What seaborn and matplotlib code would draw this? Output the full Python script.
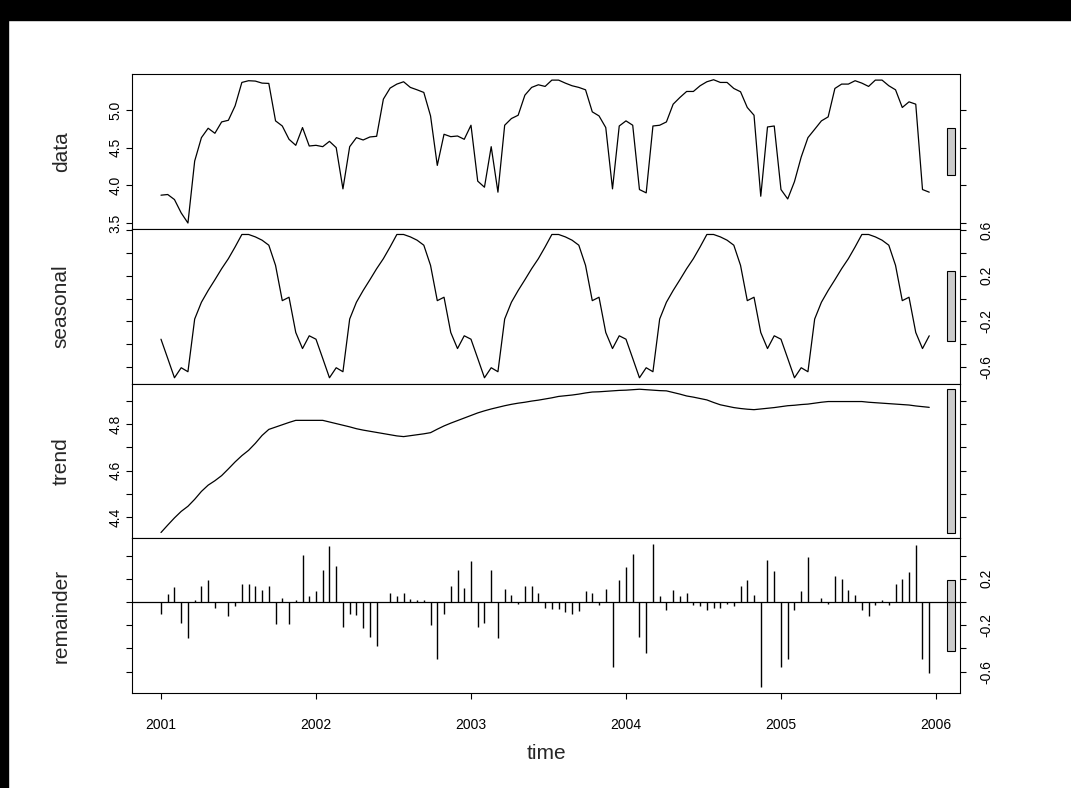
import numpy as np
import pandas as pd
import seaborn as sns
import matplotlib.pyplot as plt
from matplotlib.patches import Rectangle

# 16-day composites, 23 per year, starting 2001
start_year = 2001
per_year = 23

data = [
    3.870, 3.879, 3.812, 3.634, 3.500, 4.324, 4.635, 4.760, 4.693, 4.844, 4.866, 5.058,
    5.369, 5.392, 5.387, 5.360, 5.356, 4.858, 4.790, 4.613, 4.533, 4.769, 4.524,
    4.533, 4.515, 4.586, 4.502, 3.954, 4.515, 4.635, 4.604, 4.644, 4.653, 5.147, 5.294,
    5.347, 5.378, 5.303, 5.271, 5.236, 4.924, 4.266, 4.680, 4.648, 4.657, 4.613, 4.800,
    4.057, 3.976, 4.515, 3.910, 4.800, 4.889, 4.933, 5.200, 5.303, 5.338, 5.316, 5.400,
    5.400, 5.360, 5.325, 5.303, 5.271, 4.978, 4.924, 4.769, 3.954, 4.790,
    4.858, 4.800, 3.945, 3.901, 4.790, 4.800, 4.844, 5.080, 5.169, 5.249, 5.249, 5.325,
    5.378, 5.405, 5.369, 5.369, 5.289, 5.245, 5.036, 4.933, 3.856, 4.777, 4.790, 3.945,
    3.820, 4.050, 4.377, 4.635, 4.746, 4.858, 4.911, 5.289, 5.347, 5.347, 5.392, 5.360,
    5.316, 5.400, 5.400, 5.325, 5.271, 5.036, 5.111, 5.080, 3.945, 3.910,
]

seasonal = [
    -0.356, -0.524, -0.694, -0.606, -0.641, -0.179, -0.032, 0.071, 0.165, 0.262, 0.350, 0.453,
    0.562, 0.562, 0.541, 0.512, 0.468, 0.291, -0.018, 0.012, -0.297, -0.438, -0.326,
    -0.356, -0.524, -0.694, -0.606, -0.641, -0.179, -0.032, 0.071, 0.165, 0.262, 0.350, 0.453,
    0.562, 0.562, 0.541, 0.512, 0.468, 0.291, -0.018, 0.012, -0.297, -0.438, -0.326,
    -0.356, -0.524, -0.694, -0.606, -0.641, -0.179, -0.032, 0.071, 0.165, 0.262, 0.350, 0.453,
    0.562, 0.562, 0.541, 0.512, 0.468, 0.291, -0.018, 0.012, -0.297, -0.438, -0.326,
    -0.356, -0.524, -0.694, -0.606, -0.641, -0.179, -0.032, 0.071, 0.165, 0.262, 0.350, 0.453,
    0.562, 0.562, 0.541, 0.512, 0.468, 0.291, -0.018, 0.012, -0.297, -0.438, -0.326,
    -0.356, -0.524, -0.694, -0.606, -0.641, -0.179, -0.032, 0.071, 0.165, 0.262, 0.350, 0.453,
    0.562, 0.562, 0.541, 0.512, 0.468, 0.291, -0.018, 0.012, -0.297, -0.438, -0.326,
]

trend = [
    4.333, 4.365, 4.396, 4.424, 4.446, 4.476, 4.510, 4.537, 4.556, 4.578, 4.607, 4.637,
    4.664, 4.687, 4.717, 4.751, 4.777, 4.787, 4.797, 4.807, 4.816, 4.816, 4.816,
    4.816, 4.816, 4.809, 4.802, 4.795, 4.788, 4.780, 4.774, 4.769, 4.764, 4.759, 4.754,
    4.749, 4.746, 4.750, 4.754, 4.758, 4.763, 4.778, 4.792, 4.804, 4.815, 4.826, 4.837,
    4.848, 4.857, 4.865, 4.872, 4.879, 4.885, 4.890, 4.894, 4.899, 4.903, 4.908, 4.913,
    4.919, 4.922, 4.925, 4.929, 4.934, 4.938, 4.939, 4.941, 4.943, 4.945,
    4.946, 4.948, 4.950, 4.948, 4.946, 4.944, 4.943, 4.936, 4.929, 4.921, 4.916, 4.910,
    4.904, 4.893, 4.883, 4.877, 4.871, 4.867, 4.864, 4.862, 4.865, 4.868, 4.871, 4.875,
    4.879, 4.881, 4.884, 4.886, 4.890, 4.894, 4.897, 4.897, 4.897, 4.897, 4.897, 4.897,
    4.894, 4.892, 4.890, 4.888, 4.886, 4.884, 4.882, 4.878, 4.875, 4.872,
]

remainder = [
    -0.100, 0.071, 0.128, -0.179, -0.307, 0.020, 0.136, 0.190, -0.048, 0.000, -0.122, -0.037,
    0.156, 0.156, 0.136, 0.105, 0.136, -0.190, 0.037, -0.190, 0.020, 0.406, 0.048,
    0.094, 0.278, 0.483, 0.307, -0.213, -0.105, -0.114, -0.222, -0.298, -0.375, 0.000, 0.080,
    0.048, 0.080, 0.026, 0.017, 0.017, -0.199, -0.494, -0.102, 0.136, 0.278, 0.122, 0.352,
    -0.213, -0.179, 0.278, -0.313, 0.114, 0.057, -0.014, 0.136, 0.142, 0.080, -0.048, -0.060,
    -0.060, -0.090, -0.105, -0.080, 0.094, 0.080, -0.028, 0.114, -0.563, 0.190,
    0.300, 0.410, -0.300, -0.443, 0.500, 0.048, -0.070, 0.100, 0.048, 0.080, -0.028, -0.037,
    -0.070, -0.050, -0.050, -0.017, -0.037, 0.142, 0.190, 0.057, -0.735, 0.364, 0.264, -0.560,
    -0.494, -0.070, 0.094, 0.386, 0.000, 0.037, -0.014, 0.222, 0.200, 0.105, 0.057, -0.070,
    -0.122, -0.028, 0.020, -0.028, 0.156, 0.200, 0.257, 0.490, -0.494, -0.614,
]

year_ticks = [2001, 2002, 2003, 2004, 2005, 2006]

# panel name, labelled ticks, unlabelled ticks, side of the labels
panels = [
    ("data", [3.5, 4.0, 4.5, 5.0], [], "left"),
    ("seasonal", [-0.6, -0.2, 0.2, 0.6], [-0.4, 0.0, 0.4], "right"),
    ("trend", [4.4, 4.6, 4.8], [4.5, 4.7, 4.9], "left"),
    ("remainder", [-0.6, -0.2, 0.2], [-0.4, 0.0, 0.4], "right"),
]

df = pd.DataFrame({"data": data, "seasonal": seasonal, "trend": trend, "remainder": remainder})
df["time"] = start_year + np.arange(len(df)) / per_year

sns.set_style("ticks")
plt.rcParams["font.family"] = ["Liberation Sans", "DejaVu Sans"]
plt.rcParams["axes.unicode_minus"] = False
plt.rcParams["axes.edgecolor"] = "black"
plt.rcParams["xtick.color"] = "black"
plt.rcParams["ytick.color"] = "black"

fig, axes = plt.subplots(4, 1, sharex=True, figsize=(10.71, 7.88), dpi=100)
fig.subplots_adjust(left=132 / 1071, right=960 / 1071, top=1 - 74 / 788,
                    bottom=1 - 693 / 788, hspace=0)

# grey range bars all share the length of the smallest panel range
bar_len = min(df[p[0]].max() - df[p[0]].min() for p in panels)
bar_x = 2006.097
bar_w = 0.052

for ax, (name, major, minor, side) in zip(axes, panels):
    lo, hi = df[name].min(), df[name].max()
    pad = 0.04 * (hi - lo)
    if name == "remainder":
        ax.vlines(df["time"], 0, df[name], color="black", lw=1.0)
        ax.axhline(0, color="black", lw=0.9)
    else:
        sns.lineplot(data=df, x="time", y=name, ax=ax, color="black", lw=0.9)
    mid = (lo + hi) / 2
    ax.bar([bar_x], [bar_len], bottom=mid - bar_len / 2, width=bar_w,
           color="#cccccc", edgecolor="black", lw=0.8)
    ax.set_ylim(lo - pad, hi + pad)
    ax.set_xlim(2000.813, 2006.155)

    ax.set_yticks(major, labels=[f"{v:.1f}" for v in major], rotation=90, va="center")
    ax.set_yticks(minor, minor=True)
    ax.tick_params(axis="y", which="both", left=True, right=True, direction="out",
                   length=4, width=0.8, labelsize=10,
                   pad=(3 if side == "left" else 10),
                   labelleft=(side == "left"), labelright=(side == "right"))
    ax.set_ylabel(name, fontsize=15)
    ax.yaxis.set_label_coords(-0.074, 0.5)
    ax.set_xlabel("")
    for sp in ax.spines.values():
        sp.set_linewidth(0.8)
        sp.set_color("black")
    ax.tick_params(axis="x", which="both", top=False, bottom=True, direction="out",
                   length=2, width=0.8)

axes[-1].set_xticks(year_ticks, labels=[str(y) for y in year_ticks])
axes[-1].tick_params(axis="x", length=4, labelsize=10, pad=14)
axes[-1].set_xlabel("time", fontsize=15)
axes[-1].xaxis.set_label_coords(0.5, -0.33)

# black screenshot border on top and left edge
fig.add_artist(Rectangle((0, 1 - 20 / 788), 1, 20 / 788, transform=fig.transFigure,
                         color="black", zorder=10))
fig.add_artist(Rectangle((0, 0), 8 / 1071, 1, transform=fig.transFigure,
                         color="black", zorder=10))

fig.savefig("out.png", dpi=100)
